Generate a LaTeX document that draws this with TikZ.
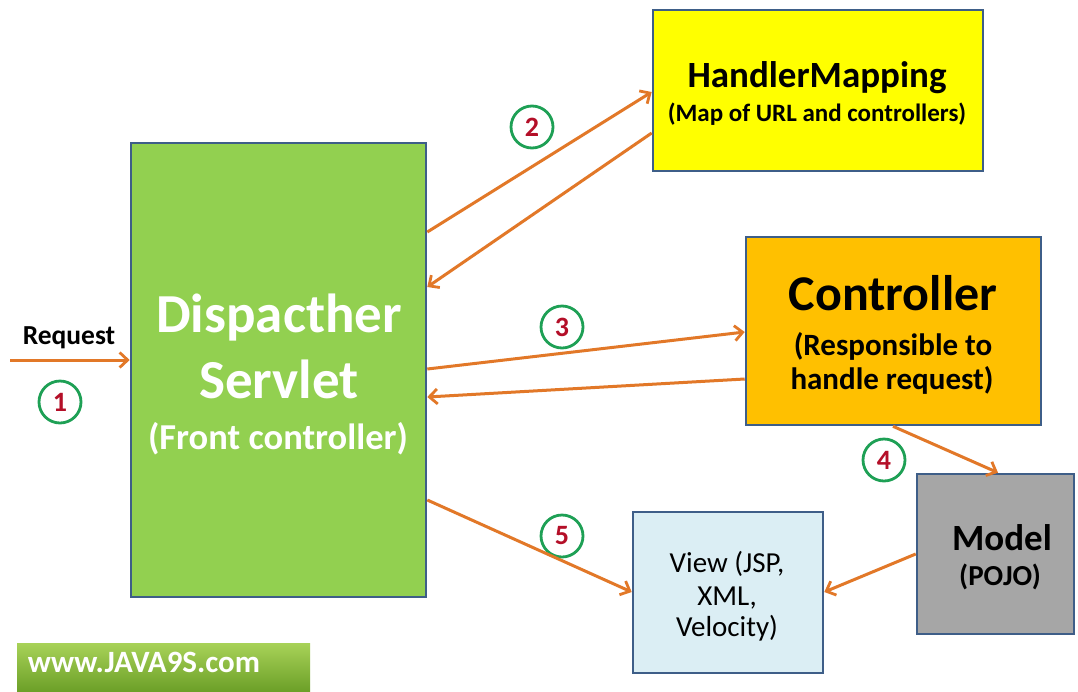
\documentclass[tikz,border=0pt]{standalone}
\usepackage{fontspec}
\setmainfont{Carlito}
\usetikzlibrary{arrows.meta,calc}
\definecolor{arr}{RGB}{226,120,40}
\definecolor{bord}{RGB}{62,94,136}
\definecolor{dsgreen}{RGB}{146,208,80}
\definecolor{hmyellow}{RGB}{255,255,0}
\definecolor{ctorange}{RGB}{255,192,0}
\definecolor{mdgray}{RGB}{166,166,166}
\definecolor{vwblue}{RGB}{219,238,244}
\definecolor{cgreen}{RGB}{30,160,85}
\definecolor{numred}{RGB}{180,15,40}
\definecolor{wmtop}{RGB}{168,210,88}
\definecolor{wmbot}{RGB}{108,160,40}
\newcommand{\fsz}[1]{\fontsize{#1}{#1}\selectfont}
\begin{document}
\begin{tikzpicture}[x=1pt,y=-1pt,
 box/.style={draw=bord, line width=2.6pt, inner sep=0pt},
 flow/.style={draw=arr, line width=3pt, -{Straight Barb[length=8pt,width=15pt,line width=2.8pt]}},
 num/.style={circle, draw=cgreen, line width=2.8pt, minimum size=42pt, inner sep=0pt, text=numred, font=\bfseries\fsz{28}},
 lbl/.style={anchor=base, inner sep=0pt, font=\bfseries},
]
\useasboundingbox (0,0) rectangle (1078,691);
\fill[white] (0,0) rectangle (1078,691);

% boxes
\node[box, fill=dsgreen, minimum width=295pt, minimum height=454pt] (ds) at (278.5,370) {};
\node[box, fill=hmyellow, minimum width=330pt, minimum height=161pt] (hm) at (818,90.5) {};
\node[box, fill=ctorange, minimum width=295pt, minimum height=188pt] (ct) at (893.5,331) {};
\node[box, fill=mdgray, minimum width=157pt, minimum height=160pt] (md) at (995.5,554) {};
\node[box, fill=vwblue, minimum width=190pt, minimum height=161pt] (vw) at (728,592.5) {};
\node[top color=wmtop, bottom color=wmbot, minimum width=293pt, minimum height=48pt, inner sep=0pt] (wm) at (163.5,667) {};

% texts
\node[lbl, text=white, font=\bfseries\fsz{55}] (ds1) at (279,332) {Dispacther};
\node[lbl, text=white, font=\bfseries\fsz{55}] (ds2) at (279,398) {Servlet};
\node[lbl, text=white, font=\bfseries\fsz{36.5}] (ds3) at (278,449) {(Front controller)};

\node[lbl, font=\bfseries\fsz{37}] (hm1) at (817,87) {HandlerMapping};
\node[lbl, font=\bfseries\fsz{25}] (hm2) at (817,121) {(Map of URL and controllers)};

\node[lbl, font=\bfseries\fsz{50}] (ct1) at (893,310) {Controller};
\node[lbl, font=\bfseries\fsz{31}] (ct2) at (893,355) {(Responsible to};
\node[lbl, font=\bfseries\fsz{31}] (ct3) at (892,389) {handle request)};

\node[lbl, font=\bfseries\fsz{37}] (md1) at (1002,550) {Model};
\node[lbl, font=\bfseries\fsz{29}] (md2) at (1000,585) {(POJO)};

\node[lbl, font=\fsz{29}] (vw1) at (727,572) {View (JSP,};
\node[lbl, font=\fsz{29}] (vw2) at (727,605) {XML,};
\node[lbl, font=\fsz{29}] (vw3) at (727,636) {Velocity)};

\node[lbl, font=\bfseries\fsz{27.5}] (req) at (69,344) {Request};
\node[lbl, text=white, font=\bfseries\fsz{31}] (wmt) at (144,672) {www.JAVA9S.com};

% numbered circles
\node[num] (n1) at (60,402) {1};
\node[num] (n2) at (532,127) {2};
\node[num] (n3) at (562,327) {3};
\node[num] (n4) at (884,460) {4};
\node[num] (n5) at (562,536) {5};

% connectors
\coordinate (rs) at (10,360);
\draw[flow] (rs) -- (ds.west |- 0,360);
\draw[flow] (ds.east |- 0,232) -- (hm.west |- 0,92);
\draw[flow] (hm.west |- 0,133) -- (ds.east |- 0,287);
\draw[flow] (ds.east |- 0,369) -- (ct.west |- 0,332);
\draw[flow] (ct.west |- 0,379) -- (ds.east |- 0,397);
\draw[flow] (ct.south -| 893,0) -- (md.north -| 998,0);
\draw[flow] (ds.east |- 0,500) -- (vw.west |- 0,592);
\draw[flow] (md.west |- 0,554) -- (vw.east |- 0,592);
\end{tikzpicture}
\end{document}
